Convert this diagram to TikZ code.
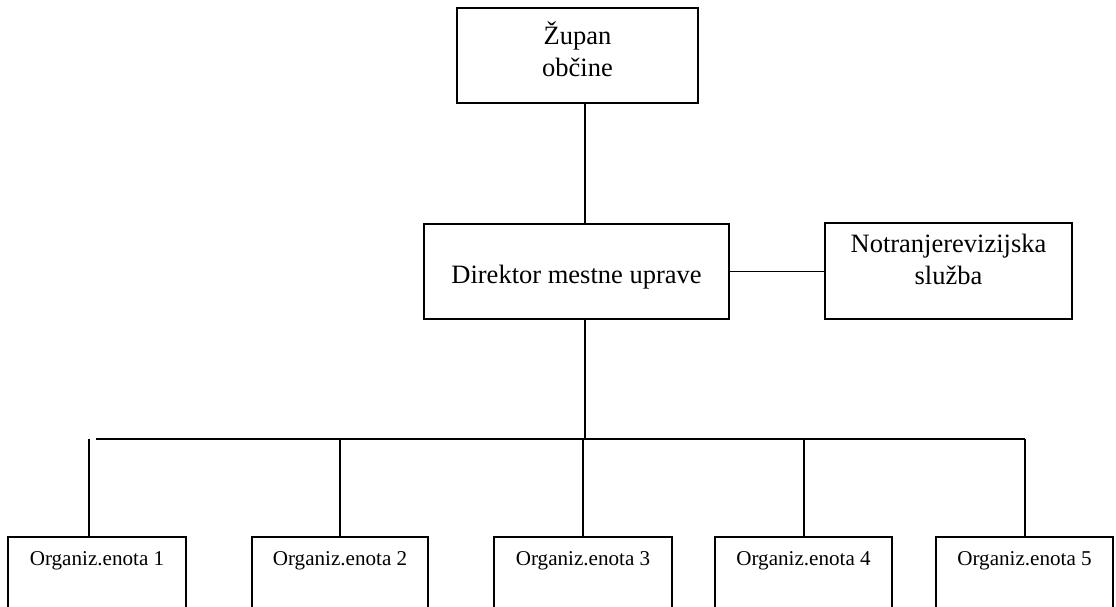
\documentclass[tikz,border=0pt]{standalone}
\usepackage{fontspec}
\setmainfont{Liberation Serif}
\usetikzlibrary{positioning,calc}

\tikzset{
  box/.style={draw, line width=1.5pt, inner sep=0pt},
  txt/.style={align=center, inner sep=0pt, font=\fontsize{26.5}{32}\selectfont},
  smalltxt/.style={inner sep=0pt, font=\fontsize{21.1}{25}\selectfont},
  link/.style={line width=1.5pt}
}

\begin{document}
\begin{tikzpicture}[x=1pt,y=-1pt]
  \useasboundingbox (0,0) rectangle (1116,607);
  \clip (0,0) rectangle (1116,607);
  % upper levels
  \node[box,minimum width=241pt,minimum height=95pt] (zupan) at (577.5,55.5) {};
  \node[txt] (zupan-t) at ([yshift=6.5pt]zupan.center) {Župan\\občine};
  \node[box,minimum width=305pt,minimum height=95pt] (dir) at (576.5,271.5) {};
  \node[txt] (dir-t) at ([yshift=-5.5pt]dir.center) {Direktor mestne uprave};
  \node[box,minimum width=247pt,minimum height=96pt] (rev) at (948.5,271) {};
  \node[txt] (rev-t) at ([yshift=12pt]rev.center) {Notranjerevizijska\\služba};
  % connectors
  \coordinate (trunk) at (585,0);
  \coordinate (bus-l) at (96,439);
  \coordinate (bus-r) at (1025,439);
  \draw[link] (zupan.south -| trunk) -- (dir.north -| trunk);
  \draw[link] (dir.east) -- (dir.east -| rev.west);
  \draw[link] (dir.south -| trunk) -- (bus-l -| trunk);
  \draw[link] (bus-l) -- (bus-r);
  % units
  \foreach \i/\cx/\w/\vx in {1/97/178/89, 2/340/176/340, 3/583/178/583, 4/803.5/177/804, 5/1024.5/177/1025} {
    \node[box,anchor=north,minimum width=\w pt,minimum height=70.5pt] (org\i) at (\cx,536) {};
    \node[smalltxt] (org\i-t) at ([yshift=-25pt]org\i.north) {Organiz.enota \i};
    \coordinate (v\i) at (\vx,439);
    \draw[link] (v\i) -- (v\i |- org\i.north);
  }
\end{tikzpicture}
\end{document}
